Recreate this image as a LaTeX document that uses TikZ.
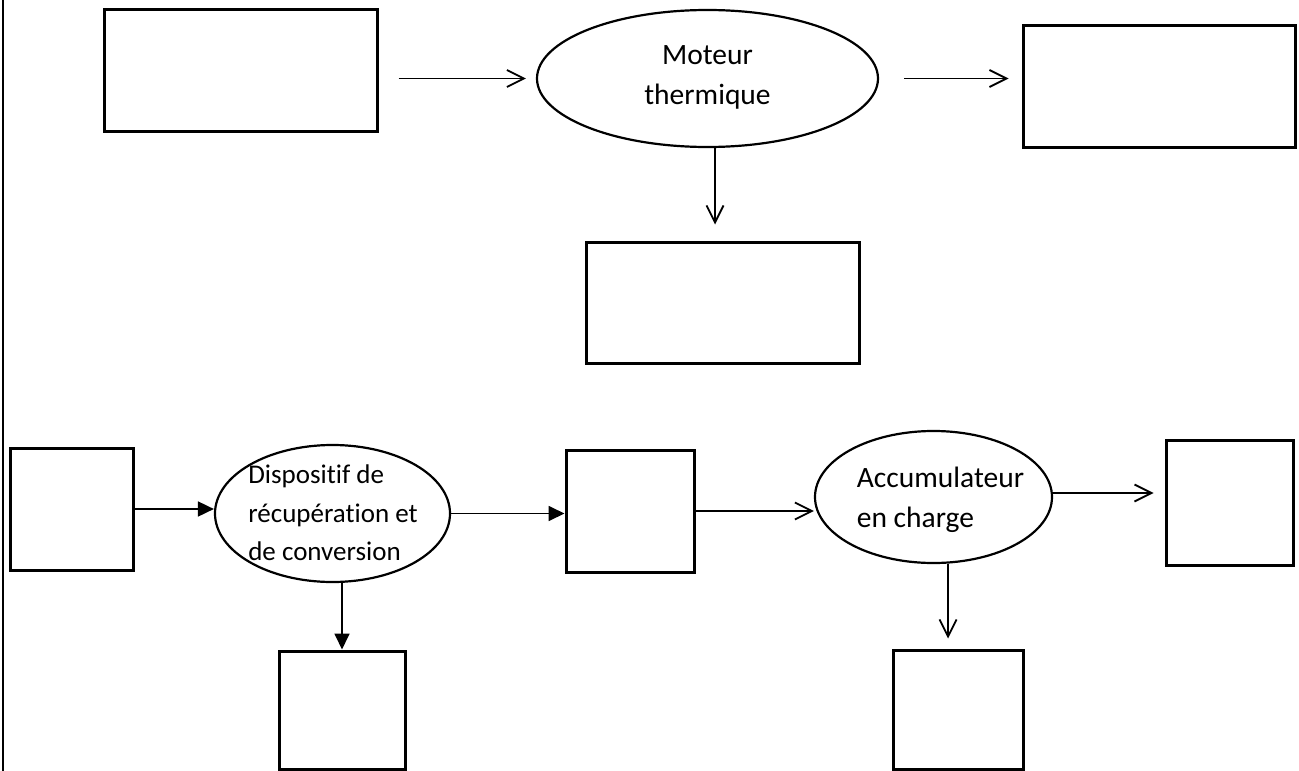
\documentclass[tikz,border=0pt]{standalone}
\usepackage{fontspec}
\setmainfont{Carlito}[Ligatures=NoCommon]
\usetikzlibrary{shapes.geometric,arrows.meta}
\begin{document}
\begin{tikzpicture}[x=1pt,y=-1pt,
  box/.style={draw,line width=3pt,inner sep=0pt},
  oval/.style={ellipse,draw,line width=2.2pt,inner sep=0pt},
  lbl/.style={inner sep=0pt,font=\fontsize{29.5}{40}\selectfont},
  lbls/.style={inner sep=0pt,font=\fontsize{27}{38.5}\selectfont},
  oa/.style={line width=1.8pt,-{Straight Barb[length=17pt,width=17pt,line width=1.8pt]}},
  fa/.style={line width=1.8pt,-{Triangle[length=16pt,width=15pt]}}]
\useasboundingbox (0,0) rectangle (1299,771);
% left border
\draw[line width=2.8pt] (3,0) -- (3,771);
% top row
\node[box,minimum width=273pt,minimum height=122pt] (b1) at (240.5,70) {};
\node[oval,minimum width=341pt,minimum height=137pt] (e1) at (707.5,78.5) {};
\node[lbl,align=center] (t1) at (707.5,77) {Moteur\\thermique};
\node[box,minimum width=272pt,minimum height=122pt] (b2) at (1159,86) {};
\node[box,minimum width=273pt,minimum height=121pt] (b3) at (722.5,302.5) {};
\draw[oa,shorten <=20pt,shorten >=10pt] (b1.east |- e1.west) -- (e1.west);
\draw[oa,shorten <=25pt,shorten >=13pt] (e1.east) -- (e1.east -| b2.west);
\draw[oa] ([xshift=7.5pt]e1.south) -- ([xshift=-7.5pt,yshift=16pt]b3.north);
% bottom row
\node[box,minimum width=123pt,minimum height=122pt] (c1) at (71.5,509) {};
\node[oval,minimum width=235pt,minimum height=137pt] (e2) at (332.5,513.5) {};
\node[lbls,align=left] (t2) at (333,513) {Dispositif de\\récupération et\\de conversion};
\node[box,minimum width=128pt,minimum height=122pt] (c2) at (630,511) {};
\node[oval,minimum width=237pt,minimum height=132pt] (e3) at (933.5,497) {};
\node[lbl,align=left] (t3) at (940.5,500) {Accumulateur\\en charge};
\node[box,minimum width=127pt,minimum height=125pt] (c3) at (1229.5,502.5) {};
\node[box,minimum width=126pt,minimum height=118pt] (c4) at (342,710) {};
\node[box,minimum width=130pt,minimum height=119pt] (c5) at (958,709.5) {};
\draw[fa] (c1.east) -- (c1.east -| e2.west);
\draw[fa] (e2.east) -- (e2.east -| c2.west);
\draw[oa] (c2.east) -- (c2.east -| e3.west);
\draw[oa,shorten >=11pt] ([yshift=4pt]e3.east) -- ([yshift=4pt]e3.east -| c3.west);
\draw[fa] (e2.south -| c4.north) -- (c4.north);
\draw[oa] ([xshift=14.5pt]e3.south) -- ([xshift=-10pt,yshift=10pt]c5.north);
\end{tikzpicture}
\end{document}
